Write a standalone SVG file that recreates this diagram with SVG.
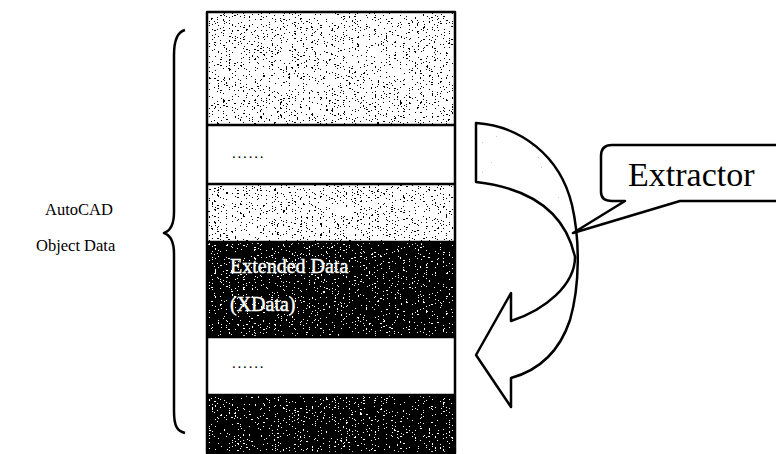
<svg xmlns="http://www.w3.org/2000/svg" width="776" height="454" viewBox="0 0 776 454">
<defs>
<style>
.lbl{font-family:"Liberation Serif","Times New Roman",serif;fill:#000}
.wlbl{font-family:"Liberation Serif","Times New Roman",serif;fill:#fff;stroke:#fff;stroke-width:0.4}
.line{fill:none;stroke:#000;stroke-width:2.5;stroke-linejoin:round}
</style>
<filter id="lightNoise" x="0" y="0" width="1" height="1" filterUnits="objectBoundingBox">
<feTurbulence type="fractalNoise" baseFrequency="0.35 1.0" numOctaves="2" seed="4" result="n"/>
<feColorMatrix in="n" type="matrix" values="0 0 0 0 0  0 0 0 0 0  0 0 0 0 0  1.6 0 0 0 -0.3" result="a"/>
<feComponentTransfer in="a" result="d"><feFuncA type="discrete" tableValues="0 0 0 0 0 0 1 1"/></feComponentTransfer>
<feFlood flood-color="#fff" result="w"/>
<feMerge><feMergeNode in="w"/><feMergeNode in="d"/></feMerge>
</filter>
<filter id="darkNoise" x="0" y="0" width="1" height="1" filterUnits="objectBoundingBox">
<feTurbulence type="fractalNoise" baseFrequency="0.35 1.0" numOctaves="2" seed="9" result="n"/>
<feColorMatrix in="n" type="matrix" values="0 0 0 0 1  0 0 0 0 1  0 0 0 0 1  1.6 0 0 0 -0.3" result="a"/>
<feComponentTransfer in="a" result="d"><feFuncA type="discrete" tableValues="0 0 0 0 0 0 0 1 1"/></feComponentTransfer>
<feFlood flood-color="#000" result="b"/>
<feMerge><feMergeNode in="b"/><feMergeNode in="d"/></feMerge>
</filter>
<filter id="sparseNoise" x="0" y="0" width="1" height="1" filterUnits="objectBoundingBox">
<feTurbulence type="fractalNoise" baseFrequency="0.8" numOctaves="1" seed="2" result="n"/>
<feColorMatrix in="n" type="matrix" values="0 0 0 0 0.6  0 0 0 0 0.6  0 0 0 0 0.6  1.6 0 0 0 -0.3" result="a"/>
<feComponentTransfer in="a" result="d"><feFuncA type="discrete" tableValues="0 0 0 0 0 0 0 0 0 0 0 1"/></feComponentTransfer>
<feFlood flood-color="#fff" result="w"/>
<feMerge><feMergeNode in="w"/><feMergeNode in="d"/></feMerge>
</filter>
<clipPath id="tailClip"><path d="M476,123 C520,126 560,155 572,205 C576,225 577,245 575,257 C568,225 545,190 476,182 Z"/></clipPath>
</defs>
<rect width="776" height="454" fill="#fff"/>

<g id="object-data-label">
<path class="line" stroke-width="2" d="M185,30 C177,32 174,40 174,55 L174,212 C174,226 170,231 164,233 C170,235 174,240 174,254 L174,411 C174,426 177,431 185,433"/>
<text class="lbl" x="45" y="215" font-size="16.5">AutoCAD</text>
<text class="lbl" x="36" y="251" font-size="16.5">Object Data</text>
</g>

<g id="column">
<g id="row1"><rect x="207" y="12" width="248" height="113" filter="url(#lightNoise)"/></g>
<g id="row2"><rect x="207" y="125" width="248" height="59" fill="#fff"/><text class="lbl" x="232" y="158" font-size="15" letter-spacing="1.8">......</text></g>
<g id="row3"><rect x="207" y="184" width="248" height="58" filter="url(#lightNoise)"/></g>
<g id="row4"><rect x="207" y="242" width="248" height="95" filter="url(#darkNoise)"/>
<text class="wlbl" x="230" y="273" font-size="20">Extended Data</text>
<text class="wlbl" x="230" y="311" font-size="20">(XData)</text></g>
<g id="row5"><rect x="207" y="337" width="248" height="58" fill="#fff"/><text class="lbl" x="232" y="368" font-size="15" letter-spacing="1.8">......</text></g>
<g id="row6"><rect x="207" y="395" width="248" height="58" filter="url(#darkNoise)"/></g>
<path class="line" stroke-width="2" d="M207,125 H455 M207,184 H455 M207,242 H455 M207,337 H455 M207,395 H455"/>
<rect class="line" stroke-width="3" x="207" y="12" width="248" height="441"/>
</g>

<g id="arrow">
<path fill="#fff" stroke="none" d="M476,123 C520,126 560,155 572,205 C580,240 580,285 570,320 C560,350 540,370 511,378 L511,407 L476,355 L511,293 L511,321 C545,310 575,285 575,257 C568,225 545,190 476,182 Z"/>
<rect x="476" y="123" width="102" height="135" filter="url(#sparseNoise)" clip-path="url(#tailClip)"/>
<path class="line" stroke-width="2.2" d="M476,123 C520,126 560,155 572,205 C580,240 580,285 570,320 C560,350 540,370 511,378 L511,407 L476,355 L511,293 L511,321 C545,310 575,285 575,257 C568,225 545,190 476,182 Z"/>
</g>

<g id="extractor">
<path class="line" fill="#fff" stroke-width="2.2" d="M780,145 H612 C604,145 601,149 601,156 V192 C601,198 604,201 612,201 H625 L573,233 L680,201 H780"/>
<text class="lbl" x="628" y="186" font-size="34">Extractor</text>
</g>
</svg>
